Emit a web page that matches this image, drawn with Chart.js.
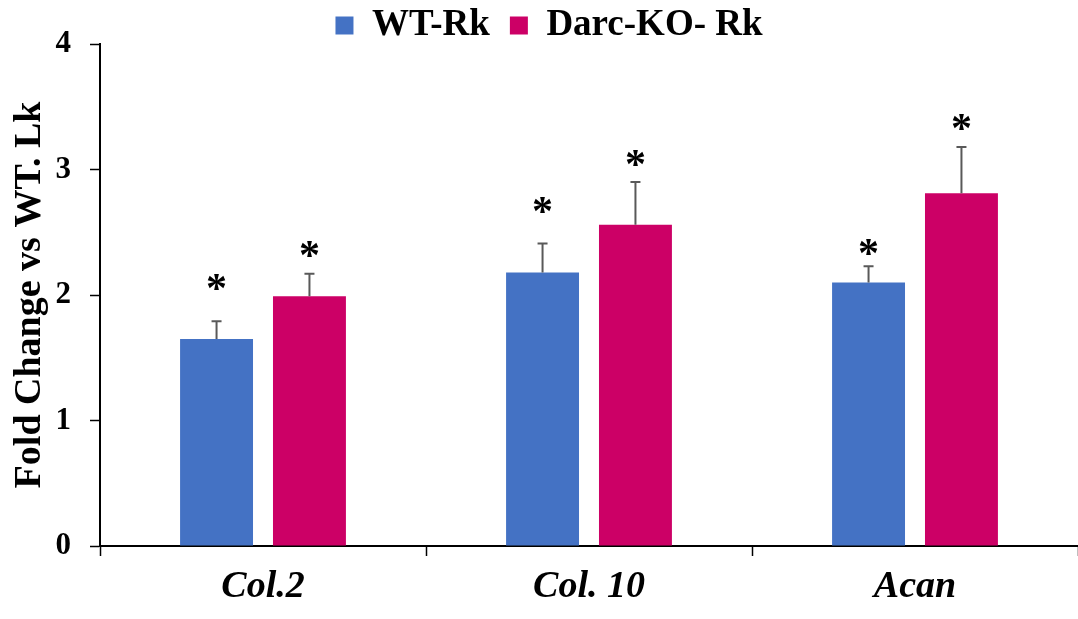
<!DOCTYPE html>
<html lang="en">
  <head>
    <meta charset="UTF-8" />
    <title>Fold Change vs WT. Lk</title>
    <style>
      html, body { margin: 0; padding: 0; background: #fff; }
      #wrap { width: 1078px; height: 619px; position: relative; }
    </style>
  </head>
  <body>
    <div id="wrap"><canvas id="myChart"></canvas></div>

    <script src="https://cdn.jsdelivr.net/npm/chart.js@4/dist/chart.umd.min.js"></script>
    <script>
      // data
      const genes = ["Col.2", "Col. 10", "Acan"];
      const wtRk = [1.65, 2.18, 2.10];
      const koRk = [1.99, 2.56, 2.81];
      // top of the (upper only) error bars
      const wtRkErr = [1.79, 2.41, 2.23];
      const koRkErr = [2.17, 2.90, 3.18];
      // where the significance stars sit
      const wtRkStar = [2.10, 2.72, 2.38];
      const koRkStar = [2.37, 3.09, 3.38];
      const yTicks = [0, 1, 2, 3, 4];

      const serif = "'Liberation Serif', 'Times New Roman', serif";
      const errTops = [wtRkErr, koRkErr];
      const stars = [wtRkStar, koRkStar];

      // keep the legend short so the plot starts right under it,
      // and nudge it a bit to the right like in the figure
      const legendTweak = {
        id: "legendTweak",
        beforeInit(chart) {
          const fit = chart.legend.fit;
          chart.legend.fit = function () {
            fit.bind(chart.legend)();
            this.height = 57;
          };
        },
        afterLayout(chart) {
          chart.legend.left += 10;
          chart.legend.right += 10;
        },
      };

      // upper error whiskers and the * above them
      const extrasPlugin = {
        id: "extras",
        afterDatasetsDraw(chart) {
          const c = chart.ctx;
          const y = chart.scales.y;
          c.save();
          chart.data.datasets.forEach((ds, i) => {
            const meta = chart.getDatasetMeta(i);
            meta.data.forEach((bar, j) => {
              const yErr = y.getPixelForValue(errTops[i][j]);
              c.strokeStyle = "#595959";
              c.lineWidth = 2;
              c.beginPath();
              c.moveTo(bar.x, bar.y);
              c.lineTo(bar.x, yErr);
              c.moveTo(bar.x - 5, yErr);
              c.lineTo(bar.x + 5, yErr);
              c.stroke();

              const ys = y.getPixelForValue(stars[i][j]);
              c.fillStyle = "#000";
              c.font = "bold 42px " + serif;
              c.textAlign = "center";
              c.textBaseline = "alphabetic";
              c.fillText("*", bar.x, ys + 20);
            });
          });
          c.restore();
        },
      };

      var ctx = document.getElementById("myChart").getContext("2d");
      var myChart = new Chart(ctx, {
        type: "bar",
        data: {
          labels: genes,
          datasets: [
            {
              label: "WT-Rk",
              data: wtRk,
              backgroundColor: "#4472C4",
              categoryPercentage: 0.57,
              barPercentage: 0.785,
            },
            {
              label: "Darc-KO- Rk",
              data: koRk,
              backgroundColor: "#CC0066",
              categoryPercentage: 0.57,
              barPercentage: 0.785,
            },
          ],
        },
        options: {
          responsive: true,
          maintainAspectRatio: false,
          animation: false,
          layout: { padding: { top: -13, right: 0, bottom: 0, left: 0 } },
          plugins: {
            legend: {
              position: "top",
              labels: {
                boxWidth: 18,
                boxHeight: 18,
                padding: 20,
                color: "#000",
                font: { family: serif, size: 37, weight: "bold" },
              },
            },
            tooltip: { enabled: false },
          },
          scales: {
            x: {
              grid: {
                offset: true,
                drawOnChartArea: false,
                drawTicks: true,
                tickLength: 10,
                tickWidth: 1.5,
                tickColor: "#000",
              },
              border: { display: true, color: "#000", width: 2 },
              ticks: {
                color: "#000",
                padding: 8,
                font: { family: serif, size: 38, weight: "bold", style: "italic" },
              },
              afterFit(scale) {
                scale.height = 73;
              },
            },
            y: {
              min: 0,
              max: 4,
              afterBuildTicks(scale) {
                scale.ticks = yTicks.map((v) => ({ value: v }));
              },
              grid: {
                drawOnChartArea: false,
                drawTicks: true,
                tickLength: 10,
                tickWidth: 1.5,
                tickColor: "#000",
              },
              border: { display: true, color: "#000", width: 2 },
              ticks: {
                color: "#000",
                padding: 19,
                font: { family: serif, size: 31, weight: "bold" },
              },
              title: {
                display: true,
                text: "Fold Change vs WT. Lk",
                color: "#000",
                padding: { top: 7, bottom: 0 },
                font: { family: serif, size: 38, weight: "bold" },
              },
              afterFit(scale) {
                scale.width = 100;
              },
            },
          },
        },
        plugins: [legendTweak, extrasPlugin],
      });
    </script>
  </body>
</html>
